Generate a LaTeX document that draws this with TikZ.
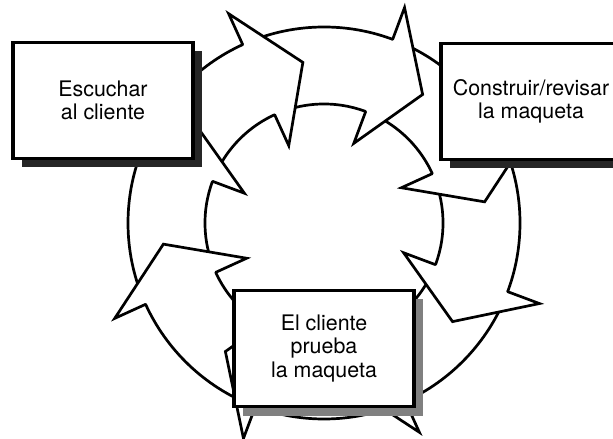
\documentclass[tikz,border=0pt]{standalone}
\usepackage{fontspec}
\setmainfont{TeX Gyre Heros}
\usetikzlibrary{calc, shadows}
\tikzset{stage/.style={draw, line width=1.6pt, fill=white, minimum width=90pt, minimum height=58pt, align=center, font=\fontsize{10.7}{11.8}\selectfont, drop shadow={shadow xshift=4.5pt, shadow yshift=-4.5pt, fill=black!85, opacity=1}}}
\tikzset{ring/.style={line width=1.35pt, line join=miter}}

\begin{document}
\begin{tikzpicture}[x=0.5pt, y=0.5pt]
\useasboundingbox (0,0) rectangle (613,438);
%ring
\coordinate (c) at (324,215);
\draw[ring] (c) circle (196);
\draw[ring] (c) circle (119);
%arrow heads, clockwise
\foreach \k in {0,...,7} {
  \pgfmathsetmacro{\a}{69.5-45*\k}
  \fill[white] ($(c)+(\a:230)$) -- ($(c)+(\a-17:162)$) -- ($(c)+(\a:85)$) -- cycle;
  \draw[ring, line cap=round] ($(c)+(\a:196)$) -- ($(c)+(\a:230)$) -- ($(c)+(\a-17:162)$) -- ($(c)+(\a:85)$) -- ($(c)+(\a:119)$);
}
%boxes
\node[stage] (listen) at (103,337.5) {Escuchar\\al cliente};
\node[stage] (build) at (531,336.5) {Construir/revisar\\la maqueta};
\node[stage, drop shadow={shadow xshift=4.5pt, shadow yshift=-4.5pt, fill=black!50, opacity=1}] (test) at (324,89.5) {El cliente\\prueba\\la maqueta};
\end{tikzpicture}
\end{document}
